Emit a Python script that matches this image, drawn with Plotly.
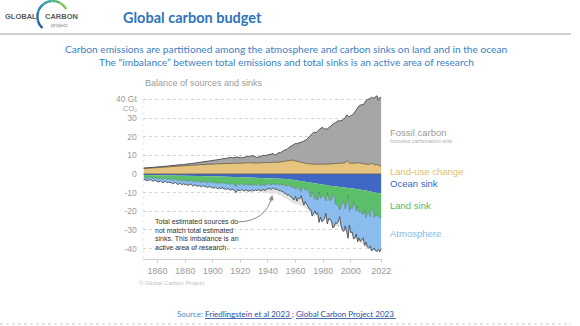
import math
import plotly.graph_objects as go

W, H = 580, 326

years = list(range(1850, 2023))

# Fossil CO2 emissions (Gt CO2 / yr)
fossil_co2 = [
    0.20, 0.20, 0.21, 0.23, 0.26, 0.26, 0.28, 0.28, 0.28, 0.30,
    0.33, 0.34, 0.35, 0.37, 0.40, 0.42, 0.43, 0.45, 0.46, 0.49,
    0.50, 0.55, 0.60, 0.63, 0.61, 0.65, 0.66, 0.68, 0.68, 0.73,
    0.80, 0.84, 0.88, 0.94, 0.94, 0.95, 0.96, 1.02, 1.10, 1.12,
    1.20, 1.26, 1.28, 1.26, 1.30, 1.38, 1.42, 1.48, 1.56, 1.70,
    1.80, 1.86, 1.90, 2.08, 2.10, 2.22, 2.35, 2.62, 2.50, 2.60,
    2.75, 2.80, 2.95, 3.20, 2.95, 2.90, 3.15, 3.30, 3.20, 2.85,
    3.20, 2.80, 3.00, 3.35, 3.35, 3.40, 3.40, 3.65, 3.65, 3.90,
    3.60, 3.25, 2.95, 3.10, 3.35, 3.50, 3.80, 4.00, 3.80, 4.10,
    4.40, 4.55, 4.60, 4.75, 4.80, 4.05, 4.40, 4.85, 5.10, 4.95,
    5.45, 5.90, 5.95, 6.10, 6.20, 6.80, 7.25, 7.55, 7.80,
    8.9, 9.4, 9.4, 9.8, 10.4, 10.9, 11.4, 11.9, 12.3, 13.0,
    13.8, 14.9, 15.5, 16.2, 17.1, 17.1, 17.0, 17.9, 18.5, 19.0,
    19.6, 19.4, 18.9, 18.7, 18.8, 19.4, 20.0, 20.4, 21.0, 21.7,
    22.1, 22.6, 22.9, 22.7, 22.9, 23.1, 23.6, 24.2, 24.4, 24.5,
    24.8, 25.5, 25.8, 26.3, 27.6, 28.7, 29.6, 30.4, 31.3, 31.7,
    31.3, 33.2, 34.2, 34.6, 35.0, 35.3, 35.3, 35.4, 35.9, 36.6,
    36.7, 34.8, 36.7, 36.8,
]

# Land-use change emissions (Gt CO2 / yr)
land_use_change = [
    3.0, 3.0, 3.1, 3.1, 3.2, 3.2, 3.3, 3.3, 3.4, 3.4,
    3.5, 3.5, 3.6, 3.6, 3.7, 3.7, 3.8, 3.8, 3.9, 3.9,
    4.0, 4.0, 4.1, 4.1, 4.2, 4.2, 4.3, 4.3, 4.4, 4.4,
    4.5, 4.5, 4.6, 4.6, 4.7, 4.7, 4.8, 4.8, 4.9, 4.9,
    5.0, 5.0, 5.1, 5.1, 5.1, 5.2, 5.2, 5.2, 5.3, 5.3,
    5.4, 5.4, 5.4, 5.5, 5.5, 5.5, 5.6, 5.6, 5.6, 5.7,
    5.7, 5.7, 5.8, 5.8, 5.7, 5.7, 5.8, 5.8, 5.9, 5.8,
    5.9, 5.8, 5.9, 6.0, 5.9, 6.0, 6.0, 6.1, 6.0, 6.1,
    6.0, 5.9, 5.9, 6.0, 6.0, 6.1, 6.0, 6.1, 6.1, 6.0,
    6.1, 6.0, 6.1, 6.1, 6.2, 6.0, 6.2, 6.3, 6.4, 6.5,
    6.6, 6.8, 6.9, 7.0, 7.1, 7.3, 7.4, 7.6, 7.5,
    7.2, 7.0, 6.8, 6.6, 6.4, 6.2, 6.0, 5.8, 5.7, 5.6,
    5.5, 5.5, 5.4, 5.4, 5.3, 5.3, 5.2, 5.2, 5.3, 5.2,
    5.4, 5.3, 5.3, 5.5, 5.4, 5.4, 5.5, 5.5, 5.7, 5.6,
    5.5, 5.6, 5.8, 5.7, 5.6, 5.9, 5.9, 6.1, 7.3, 6.5,
    5.9, 5.8, 5.7, 6.0, 5.9, 5.9, 5.8, 6.2, 5.7, 5.6,
    5.7, 5.3, 5.2, 5.3, 5.1, 5.2, 6.0, 5.3, 5.0, 4.9,
    5.3, 4.7, 4.4, 4.3,
]

# Ocean sink (Gt CO2 / yr, magnitude)
ocean_sink = [
    0.58, 0.60, 0.61, 0.64, 0.63, 0.66, 0.68, 0.67, 0.70, 0.71,
    0.72, 0.74, 0.73, 0.76, 0.78, 0.77, 0.80, 0.81, 0.83, 0.82,
    0.85, 0.86, 0.88, 0.87, 0.90, 0.92, 0.91, 0.94, 0.95, 0.97,
    0.98, 1.00, 0.99, 1.02, 1.04, 1.03, 1.06, 1.07, 1.09, 1.08,
    1.11, 1.13, 1.12, 1.15, 1.17, 1.16, 1.19, 1.21, 1.22, 1.24,
    1.25, 1.27, 1.26, 1.30, 1.31, 1.33, 1.35, 1.37, 1.36, 1.40,
    1.42, 1.43, 1.46, 1.48, 1.47, 1.50, 1.52, 1.55, 1.54, 1.56,
    1.58, 1.60, 1.59, 1.63, 1.65, 1.66, 1.68, 1.71, 1.72, 1.75,
    1.76, 1.74, 1.78, 1.80, 1.83, 1.84, 1.87, 1.90, 1.91, 1.94,
    1.97, 2.00, 2.02, 2.05, 2.08, 2.07, 2.12, 2.16, 2.20, 2.22,
    2.30, 2.38, 2.45, 2.55, 2.62, 2.75, 2.88, 3.05, 3.25,
    3.5, 3.6, 3.6, 3.7, 3.8, 3.9, 3.9, 4.0, 4.1, 4.2,
    4.3, 4.3, 4.4, 4.6, 4.6, 4.7, 4.8, 4.9, 5.1, 5.2,
    5.3, 5.5, 5.7, 5.9, 6.1, 6.1, 6.2, 6.3, 6.5, 6.5,
    6.6, 6.8, 6.9, 7.3, 7.1, 7.1, 7.1, 7.2, 7.4, 7.6,
    7.5, 7.5, 7.7, 7.8, 7.9, 8.0, 8.1, 8.3, 8.4, 8.5,
    8.6, 8.8, 8.9, 9.0, 9.2, 9.3, 9.5, 9.7, 9.8, 9.9,
    10.1, 10.3, 10.4, 10.3,
]

# Land sink (Gt CO2 / yr, magnitude)
land_sink = [
    1.5, 0.9, 1.8, 1.2, 1.6, 0.7, 1.4, 1.9, 1.1, 1.5,
    1.5, 2.0, 1.2, 1.8, 2.3, 1.6, 1.4, 2.1, 1.7, 1.9,
    1.9, 2.5, 2.1, 1.6, 2.4, 2.7, 2.0, 2.3, 2.8, 2.2,
    2.8, 2.3, 3.1, 2.6, 2.2, 2.9, 3.2, 2.5, 2.8, 3.3,
    2.7, 3.0, 3.4, 2.6, 3.2, 2.9, 3.6, 3.1, 2.8, 3.5,
    3.2, 3.7, 3.0, 3.4, 3.9, 3.3, 3.6, 2.9, 3.8, 3.5,
    3.9, 3.3, 3.7, 4.1, 3.4, 3.8, 4.3, 5.2, 3.6, 4.0,
    4.2, 3.5, 4.0, 4.4, 3.7, 4.1, 4.5, 3.8, 4.3, 3.9,
    4.2, 3.8, 4.4, 3.6, 4.0, 4.6, 3.7, 4.1, 4.4, 3.5,
    3.6, 3.1, 3.9, 3.3, 3.0, 3.7, 3.4, 3.1, 3.8, 3.3,
    3.7, 3.2, 3.9, 3.4, 4.1, 3.3, 3.8, 3.5, 4.2,
    3.2, 4.5, 3.5, 4.2, 4.0, 5.5, 3.2, 3.0, 4.8, 4.2,
    3.6, 6.3, 8.0, 4.8, 7.2, 9.0, 8.0, 9.2, 4.5, 7.8,
    6.5, 6.2, 7.0, 8.5, 3.8, 7.2, 8.2, 7.4, 4.2, 5.5,
    9.5, 9.6, 10.5, 12.0, 10.0, 8.0, 8.0, 11.5, 8.5, 4.0,
    12.5, 10.5, 11.0, 7.0, 8.8, 12.0, 9.0, 12.2, 11.5, 12.8,
    13.0, 10.5, 14.5, 11.5, 11.8, 13.5, 8.5, 9.0, 13.5, 12.0,
    12.5, 12.0, 13.0, 13.2,
]

# Atmospheric growth (Gt CO2 / yr, magnitude)
atmosphere = [
    1.2, 1.2, 1.3, 1.3, 1.3, 1.4, 1.4, 1.4, 1.5, 1.5,
    1.5, 1.6, 1.6, 1.6, 1.7, 1.7, 1.8, 1.8, 1.8, 1.9,
    1.9, 1.9, 1.9, 2.0, 2.0, 2.0, 2.0, 2.0, 2.0, 2.0,
    2.0, 2.0, 2.1, 2.1, 2.1, 2.2, 2.2, 2.2, 2.3, 2.3,
    2.3, 2.4, 2.4, 2.4, 2.5, 2.5, 2.5, 2.6, 2.6, 2.6,
    2.7, 2.7, 2.7, 2.8, 2.8, 2.8, 2.9, 2.9, 2.9, 3.0,
    3.0, 3.0, 3.1, 3.1, 3.1, 3.1, 3.2, 3.2, 3.2, 3.2,
    3.2, 3.2, 3.2, 3.2, 3.1, 3.1, 3.1, 3.1, 3.0, 3.0,
    3.0, 2.9, 2.9, 2.8, 2.8, 2.7, 2.7, 2.6, 2.6, 2.5,
    2.5, 2.4, 2.4, 2.4, 2.4, 2.5, 2.6, 2.8, 3.0, 3.2,
    3.5, 3.8, 4.1, 4.4, 4.7, 5.0, 5.3, 5.6, 5.9,
    7.3, 3.9, 7.5, 5.0, 5.5, 2.2, 8.0, 9.7, 5.8, 8.0,
    10.2, 8.3, 6.6, 13.2, 9.5, 6.1, 8.8, 6.6, 16.4, 10.1,
    13.7, 13.4, 11.1, 6.7, 16.9, 10.7, 9.8, 11.6, 18.2, 16.3,
    10.0, 10.2, 7.9, 3.6, 10.5, 15.2, 15.7, 9.1, 14.9, 22.9,
    7.3, 13.6, 12.3, 20.0, 17.7, 12.2, 19.2, 13.8, 16.3, 13.9,
    12.6, 19.1, 13.2, 18.6, 18.8, 15.8, 23.1, 22.1, 16.5, 19.3,
    19.0, 18.1, 18.4, 16.6,
]

for s in (fossil_co2, land_use_change, ocean_sink, land_sink, atmosphere):
    assert len(s) == len(years), len(s)

x_tick_vals = [1860, 1880, 1900, 1920, 1940, 1960, 1980, 2000, 2022]
y_tick_vals = [40, 30, 20, 10, 0, -10, -20, -30, -40]
y_tick_text = ["40 Gt", "30", "20", "10", "0", "-10", "-20", "-30", "-40"]
y_unit_sub = "CO\u2082"

series_labels = ["Fossil carbon", "Land-use change", "Ocean sink", "Land sink", "Atmosphere"]

C_FOSSIL = "#a6a6a6"
C_LUC = "#e6c47f"
C_OCEAN = "#4067c6"
C_LAND = "#5cc06b"
C_ATM = "#8bbcee"
C_IMB = "#e3e3e3"


def P(x, y):
    return x / W, 1 - y / H


X0, X1 = 1849.3, 2022.6
Y0, Y1 = -45.6, 45.1

fig = go.Figure()

sinks_total = [-(o + l + a) for o, l, a in zip(ocean_sink, land_sink, atmosphere)]
emis_total = [-(f + u) for f, u in zip(fossil_co2, land_use_change)]

fig.add_trace(go.Scatter(x=years, y=sinks_total, mode="lines", line=dict(width=0),
                         hoverinfo="skip"))
fig.add_trace(go.Scatter(x=years, y=emis_total, mode="lines", line=dict(width=0),
                         fill="tonexty", fillcolor=C_IMB, hoverinfo="skip"))

fig.add_trace(go.Scatter(x=years, y=land_use_change, stackgroup="src", mode="lines",
                         line=dict(color="#6a5a3e", width=0.8), fillcolor=C_LUC,
                         name="Land-use change"))
fig.add_trace(go.Scatter(x=years, y=fossil_co2, stackgroup="src", mode="lines",
                         line=dict(color="#555555", width=1.0), fillcolor=C_FOSSIL,
                         name="Fossil carbon"))

fig.add_trace(go.Scatter(x=years, y=[-v for v in ocean_sink], stackgroup="snk", mode="lines",
                         line=dict(color=C_OCEAN, width=0), fillcolor=C_OCEAN,
                         name="Ocean sink"))
fig.add_trace(go.Scatter(x=years, y=[-v for v in land_sink], stackgroup="snk", mode="lines",
                         line=dict(color="#3f6a48", width=0.5), fillcolor=C_LAND,
                         name="Land sink"))
fig.add_trace(go.Scatter(x=years, y=[-v for v in atmosphere], stackgroup="snk", mode="lines",
                         line=dict(color="#4d4d4d", width=0.9), fillcolor=C_ATM,
                         name="Atmosphere"))

shapes = []
shapes.append(dict(type="line", xref="x", yref="y", x0=years[0], x1=years[-1], y0=0, y1=0,
                   line=dict(color="#5a5a5a", width=0.8)))
shapes.append(dict(type="line", xref="x", yref="y", x0=X0, x1=X0, y0=Y0, y1=41.5,
                   line=dict(color="#cfcfcf", width=1, dash="dot")))
shapes.append(dict(type="line", xref="paper", yref="paper", x0=0, x1=1,
                   y0=P(0, 34)[1], y1=P(0, 34)[1], line=dict(color="#cfcfcf", width=2)))
shapes.append(dict(type="line", xref="paper", yref="paper", x0=0, x1=1,
                   y0=P(0, 324)[1], y1=P(0, 324)[1],
                   line=dict(color="#c8c8c8", width=1, dash="dot")))

# logo arc
cx, cy, r = 53.5, 16.5, 15.5
arc_cols = ["#1f5ea8", "#2372b5", "#2a8ab8", "#3aa3a6", "#5db67a", "#86c450"]
a_start, a_end = 228, 28
nseg = len(arc_cols)
for i, col in enumerate(arc_cols):
    a0 = a_start + (a_end - a_start) * i / nseg
    a1 = a_start + (a_end - a_start) * (i + 1) / nseg
    pts = []
    for k in range(7):
        a = math.radians(a0 + (a1 - a0) * k / 6)
        pts.append(P(cx + r * math.cos(a), cy - r * math.sin(a)))
    path = "M " + " L ".join(f"{px:.5f},{py:.5f}" for px, py in pts)
    shapes.append(dict(type="path", xref="paper", yref="paper", path=path,
                       line=dict(color=col, width=2.4)))

# curved arrow for the imbalance note
s = P(242, 222)
c = P(270, 221)
e = P(276, 197)
shapes.append(dict(type="path", xref="paper", yref="paper",
                   path=f"M {s[0]:.5f},{s[1]:.5f} Q {c[0]:.5f},{c[1]:.5f} {e[0]:.5f},{e[1]:.5f}",
                   line=dict(color="#8a8a8a", width=1)))

ann = []


def text(x, y, t, size, color, anchor="left", family="Liberation Sans", yanchor="middle",
         pad=1):
    px_, py_ = P(x, y)
    ann.append(dict(x=px_, y=py_, xref="paper", yref="paper", text=t, showarrow=False,
                    xanchor=anchor, yanchor=yanchor, borderpad=pad,
                    font=dict(size=size, color=color, family=family)))


tip = P(276.5, 195)
ann.append(dict(x=tip[0], y=tip[1], xref="paper", yref="paper", text="", showarrow=True,
                ax=-1.5, ay=8, arrowhead=2, arrowsize=1, arrowwidth=1,
                arrowcolor="#8a8a8a", standoff=0))

# header
text(3, 16.5, "<b>GLOBAL</b>", 7.5, "#5a5a5a")
text(44, 16.5, "<b>CARBON</b>", 7.5, "#5a5a5a")
text(60, 25, "project", 5.5, "#888888", anchor="center")
text(123, 17, "<b>Global carbon budget</b>", 14.5, "#2f74bd", family="Lato")
text(291, 49, "Carbon emissions are partitioned among the atmosphere and carbon sinks on land and in the ocean",
     10.2, "#3b7fc4", anchor="center", family="Lato")
text(291, 62, "The \u201cimbalance\u201d between total emissions and total sinks is an active area of research",
     10.2, "#3b7fc4", anchor="center", family="Lato")

# chart texts
text(145, 83, "Balance of sources and sinks", 9, "#9a9a9a")
text(140, 108.5, y_unit_sub, 7.5, "#9a9a9a", anchor="right", pad=0)

text(394, 132, series_labels[0], 9.5, "#9a9a9a")
text(394, 141, "Includes carbonation sink", 5.5, "#b0b0b0")
text(394, 171, series_labels[1], 9.5, "#e3bd6e")
text(394, 183, series_labels[2], 9.5, "#3d63c4")
text(394, 205, series_labels[3], 9.5, "#55b964")
text(394, 233, series_labels[4], 9.5, "#86b9ec")

note = ["Total estimated sources do", "not match total estimated",
        "sinks. This imbalance is an", "active area of research."]
for i, line in enumerate(note):
    text(155, 222 + i * 8.4, line, 7, "#333333")

text(139, 283, "\u00a9 Global Carbon Project", 6, "#c0c0c0")

text(291, 314,
     "<span style='color:#4a8fd6'>Source: </span>"
     "<u>Friedlingstein et al 2023 </u>; <u>Global Carbon Project 2023 </u>",
     8, "#1f4ea3", anchor="center", family="Lato")

fig.update_layout(
    width=W, height=H,
    margin=dict(l=0, r=0, t=0, b=0),
    paper_bgcolor="white", plot_bgcolor="white",
    showlegend=False,
    shapes=shapes, annotations=ann,
    xaxis=dict(domain=[145 / W, 388 / W], range=[X0, X1],
               tickvals=x_tick_vals, ticktext=[str(v) for v in x_tick_vals],
               showgrid=False, zeroline=False,
               showline=True, linecolor="#d0d0d0", linewidth=1,
               ticks="outside", ticklen=3, tickcolor="#d0d0d0",
               tickfont=dict(size=9, color="#9a9a9a", family="Liberation Sans")),
    yaxis=dict(domain=[(H - 259) / H, (H - 90) / H], range=[Y0, Y1],
               tickvals=y_tick_vals, ticktext=y_tick_text,
               showgrid=True, gridcolor="#d4d4d4", griddash="dot", gridwidth=1,
               zeroline=False, showline=False, ticks="",
               ticklabelstandoff=5,
               tickfont=dict(size=8.5, color="#9a9a9a", family="Liberation Sans")),
)

fig.write_html("out.html")
